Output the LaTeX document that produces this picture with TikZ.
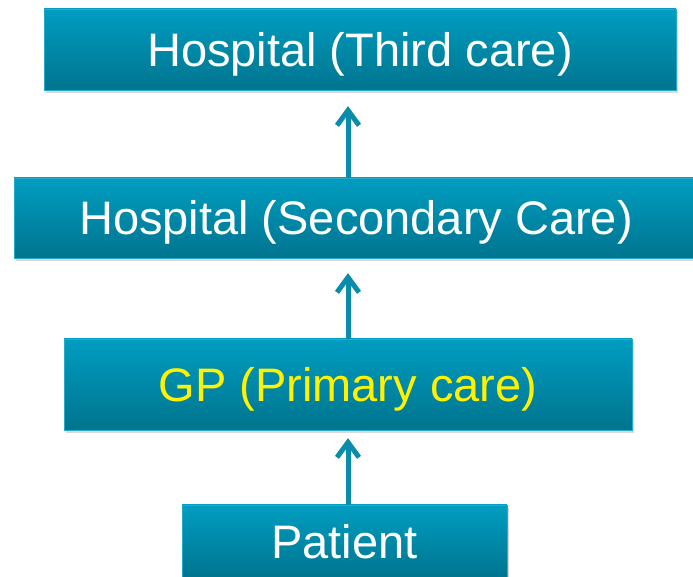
\documentclass[tikz,border=0pt]{standalone}
\usepackage{fontspec}
\setmainfont{Liberation Sans}
\usepackage{tikz}
\usetikzlibrary{arrows.meta}
\usetikzlibrary{shadows}
\definecolor{boxtop}{RGB}{0,157,193}
\definecolor{boxbot}{RGB}{0,116,142}
\definecolor{linkcol}{RGB}{8,140,170}
\tikzset{
  carebox/.style={rectangle, inner sep=0pt, top color=boxtop, bottom color=boxbot,
    draw=boxtop!85!white, line width=0.3pt,
    drop shadow={shadow xshift=2pt, shadow yshift=-3pt, opacity=0.3},
    text=white, font=\fontsize{47}{56}\selectfont, text height=34pt, text depth=0pt},
  link/.style={draw=linkcol, line width=5pt, -{Straight Barb[length=15pt,width=22pt]}}
}
\begin{document}
\begin{tikzpicture}[x=1pt, y=1pt]
\useasboundingbox (0,0) rectangle (693,577);
% levels of care
\node[carebox, minimum width=632pt, minimum height=81pt] (third) at (360,527.5) {Hospital (Third care)};
\node[carebox, minimum width=684pt, minimum height=80pt] (second) at (356,359) {Hospital (Secondary Care)};
\node[carebox, minimum width=568pt, minimum height=91pt, text=yellow] (gp) at (348,192.5) {GP (Primary care)};
\node[carebox, minimum width=325pt, minimum height=74pt] (patient) at (344.5,35) {Patient};
% referrals
\draw[link, shorten >=8pt] (patient.north -| gp.south) -- (gp.south);
\draw[link, shorten >=15pt] (gp.north) -- (second.south -| gp.north);
\draw[link, shorten >=16pt] (second.north -| gp.north) -- (third.south -| gp.north);
\end{tikzpicture}
\end{document}
